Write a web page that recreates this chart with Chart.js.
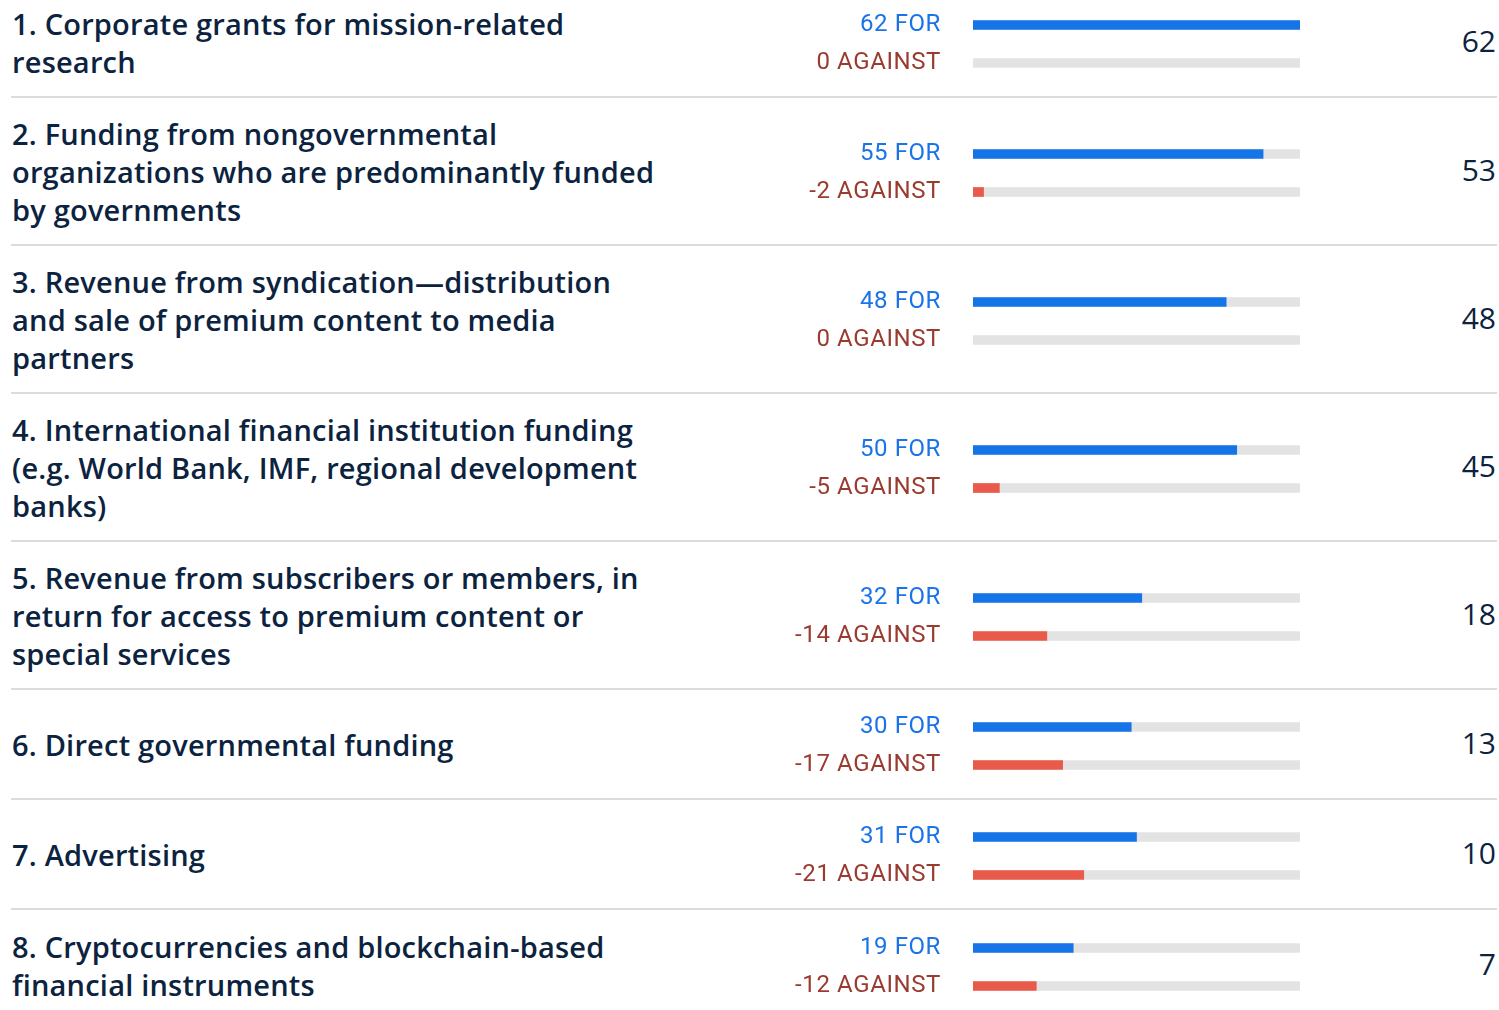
<!DOCTYPE html>
<html>
<head>
<meta charset="utf-8">
<script src="https://cdn.jsdelivr.net/npm/chart.js@4/dist/chart.umd.min.js"></script>
<style>
  html, body { margin: 0; padding: 0; background: #fff; overflow: hidden; }
  body { width: 1499px; height: 1010px; position: relative; font-family: "Open Sans", "Noto Sans", sans-serif; }
  #list { position: absolute; left: 0; top: -12px; width: 1499px; }
  .row { position: relative; box-sizing: border-box; margin-left: 11px; width: 1486px; border-bottom: 2px solid #dcdcdc; }
  .row:last-child { border-bottom: none; }
  .label { position: absolute; left: 1px; top: calc(50% + 1px); transform: translateY(-50%); width: 700px; white-space: pre-line;
           font-size: 29px; font-weight: 600; line-height: 38px; letter-spacing: 0.2px; color: #0c2340; }
  .bars { position: absolute; left: 769px; top: 50%; margin-top: -48px; width: 520px; height: 100px; }
  .bars canvas { display: block; }
  .net { position: absolute; right: 1px; top: calc(50% - 2px); transform: translateY(-50%);
         font-size: 30px; color: #0c2340; }
</style>
</head>
<body>
<div id="list"></div>
<script>
const categories = [
  '1. Corporate grants for mission-related\nresearch',
  '2. Funding from nongovernmental\norganizations who are predominantly funded\nby governments',
  '3. Revenue from syndication\u2014distribution\nand sale of premium content to media\npartners',
  '4. International financial institution funding\n(e.g. World Bank, IMF, regional development\nbanks)',
  '5. Revenue from subscribers or members, in\nreturn for access to premium content or\nspecial services',
  '6. Direct governmental funding',
  '7. Advertising',
  '8. Cryptocurrencies and blockchain-based\nfinancial instruments'
];
const forVotes = [62, 55, 48, 50, 32, 30, 31, 19];
const againstVotes = [0, -2, 0, -5, -14, -17, -21, -12];
const netScores = [62, 53, 48, 45, 18, 13, 10, 7];
const scaleMax = 62;

const rowHeights = [110, 148, 148, 148, 148, 110, 110, 110];

const forColor = '#1474e8';
const againstColor = '#ea5a4a';
const trackColor = '#e3e3e3';

const list = document.getElementById('list');

const spacing = {
  id: 'spacing',
  beforeDraw(chart) { chart.ctx.letterSpacing = '0.6px'; }
};

categories.forEach((cat, i) => {
  const row = document.createElement('div');
  row.className = 'row';
  row.style.height = rowHeights[i] + 'px';
  row.innerHTML = '<div class="label"></div><div class="bars"><canvas width="520" height="100"></canvas></div><div class="net"></div>';
  row.querySelector('.label').textContent = cat;
  row.querySelector('.net').textContent = netScores[i];
  list.appendChild(row);

  // zero votes -> no bar at all
  const against = Math.abs(againstVotes[i]) || null;

  const ctx = row.querySelector('canvas');
  new Chart(ctx, {
    type: 'bar',
    data: {
      labels: [forVotes[i] + ' FOR', againstVotes[i] + ' AGAINST'],
      datasets: [
        {
          data: [forVotes[i], against],
          backgroundColor: [forColor, againstColor],
          barThickness: 9,
          grouped: false,
          order: 1
        },
        {
          data: [scaleMax, scaleMax],
          backgroundColor: trackColor,
          barThickness: 9,
          grouped: false,
          order: 2
        }
      ]
    },
    options: {
      indexAxis: 'y',
      responsive: false,
      animation: false,
      devicePixelRatio: 1,
      layout: { padding: 0 },
      plugins: { legend: { display: false }, tooltip: { enabled: false } },
      scales: {
        x: { display: false, min: 0, max: scaleMax },
        y: {
          afterFit: (axis) => { axis.width = 193; },
          grid: { display: false, drawTicks: true, tickLength: 32, tickColor: 'rgba(0,0,0,0)' },
          border: { display: false },
          ticks: {
            padding: 0,
            font: { family: 'Roboto', size: 24, lineHeight: 1 },
            color: (c) => c.index === 0 ? '#1a73e8' : '#9a3b2f'
          }
        }
      }
    },
    plugins: [spacing]
  });
});
</script>
</body>
</html>
